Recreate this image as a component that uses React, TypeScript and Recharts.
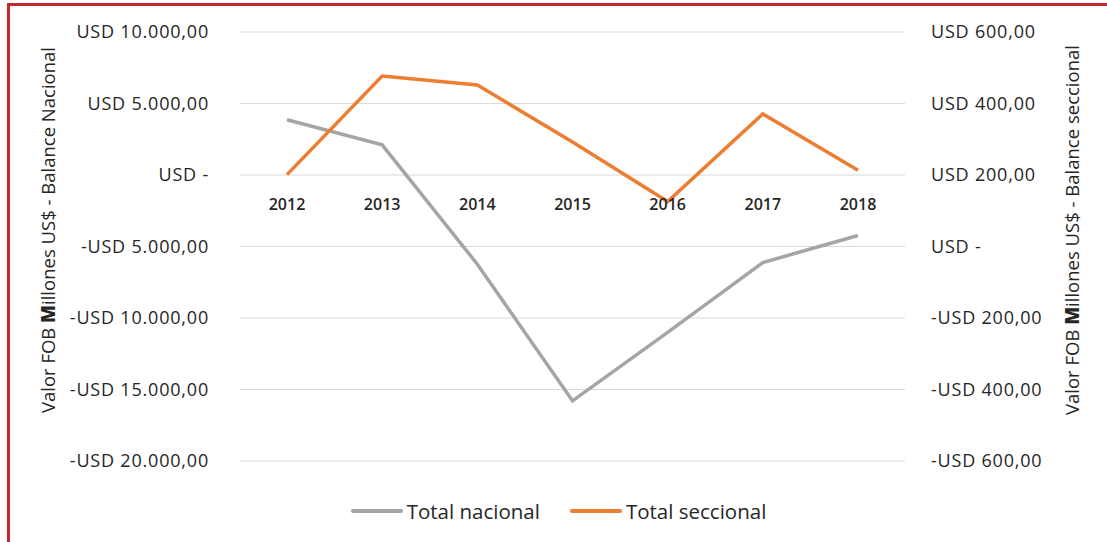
import {
  CartesianGrid,
  Legend,
  Line,
  LineChart,
  ReferenceDot,
  YAxis,
  XAxis,
} from "recharts";

const years = ["2012", "2013", "2014", "2015", "2016", "2017", "2018"];
const totalNacional = [3860, 2110, -6240, -15790, -11000, -6120, -4230];
const totalSeccional = [201, 477, 452, 292, 126, 371, 213];

const leftTicks = [-20000, -15000, -10000, -5000, 0, 5000, 10000];
const rightTicks = [-600, -400, -200, 0, 200, 400, 600];

const data = years.map((year, i) => ({
  year,
  nacional: totalNacional[i],
  seccional: totalSeccional[i],
}));

const FONT = "'Open Sans', sans-serif";
const GRAY = "#A5A5A5";
const ORANGE = "#ED7D31";

function usd(v: number) {
  if (v === 0) return "USD -";
  const abs = Math.abs(v);
  const grouped = String(abs).replace(/\B(?=(\d{3})+(?!\d))/g, ".");
  return `${v < 0 ? "-" : ""}USD ${grouped},00`;
}

function AxisTitle({ x, y, suffix }: { x: number; y: number; suffix: string }) {
  return (
    <text
      x={x}
      y={y}
      transform={`rotate(-90 ${x} ${y})`}
      textAnchor="middle"
      dominantBaseline="central"
      fontFamily={FONT}
      fontSize={18.5}
      fill="#262626"
    >
      Valor FOB <tspan fontWeight={800}>M</tspan>illones US$ - Balance {suffix}
    </text>
  );
}

function LegendContent(props: any) {
  const items = props.payload || [];
  return (
    <div
      style={{
        display: "flex",
        justifyContent: "center",
        gap: 30,
        paddingLeft: 10,
        fontFamily: FONT,
        fontSize: 20.5,
        color: "#262626",
      }}
    >
      {items.map((item: any) => (
        <div key={item.value} style={{ display: "flex", alignItems: "center", gap: 4 }}>
          <span style={{ display: "inline-block", width: 52, height: 4, borderRadius: 2, background: item.color }} />
          <span>{item.value}</span>
        </div>
      ))}
    </div>
  );
}

export default function App() {
  const tick = { fill: "#262626", fontSize: 18, fontFamily: FONT, letterSpacing: 0.8 };
  return (
    <div style={{ position: "absolute", left: 0, top: 0, width: 1107, height: 542, background: "#fff" }}>
      <div
        style={{
          position: "absolute",
          left: 7,
          top: 3,
          width: 1100,
          height: 539,
          borderTop: "3px solid #C62832",
          borderLeft: "3px solid #C62832",
          boxSizing: "border-box",
        }}
      />
      <div style={{ position: "absolute", left: 0, top: 0 }}>
        <LineChart width={1107} height={542} data={data} margin={{ top: 32, right: 0, bottom: 53, left: 0 }}>
          <CartesianGrid vertical={false} stroke="#D9D9D9" yAxisId="left" />
          <XAxis dataKey="year" hide padding={{ left: 47, right: 47 }} />
          <YAxis
            yAxisId="left"
            orientation="left"
            width={240}
            domain={[-20000, 10000]}
            ticks={leftTicks}
            tickFormatter={usd}
            axisLine={false}
            tickLine={false}
            tickMargin={25}
            tick={tick}
            label={{ content: () => <AxisTitle x={47} y={230} suffix="Nacional" /> }}
          />
          <YAxis
            yAxisId="right"
            orientation="right"
            width={202}
            domain={[-600, 600]}
            ticks={rightTicks}
            tickFormatter={usd}
            axisLine={false}
            tickLine={false}
            tickMargin={20}
            tick={{ ...tick, textAnchor: "start" }}
            label={{ content: () => <AxisTitle x={1071} y={230} suffix="seccional" /> }}
          />
          {years.map((year) => (
            <ReferenceDot
              key={year}
              x={year}
              y={0}
              yAxisId="left"
              r={0}
              fill="none"
              stroke="none"
              label={{
                value: year,
                position: "bottom",
                offset: 24,
                fill: "#262626",
                fontSize: 16,
                fontWeight: 600,
                fontFamily: FONT,
              }}
            />
          ))}
          <Line
            yAxisId="left"
            type="linear"
            dataKey="nacional"
            name="Total nacional"
            stroke={GRAY}
            strokeWidth={3.5}
            dot={false}
            activeDot={false}
            isAnimationActive={false}
          />
          <Line
            yAxisId="right"
            type="linear"
            dataKey="seccional"
            name="Total seccional"
            stroke={ORANGE}
            strokeWidth={3.5}
            dot={false}
            activeDot={false}
            isAnimationActive={false}
          />
          <Legend content={<LegendContent />} wrapperStyle={{ top: 497, left: 0, width: 1107 }} />
        </LineChart>
      </div>
    </div>
  );
}
